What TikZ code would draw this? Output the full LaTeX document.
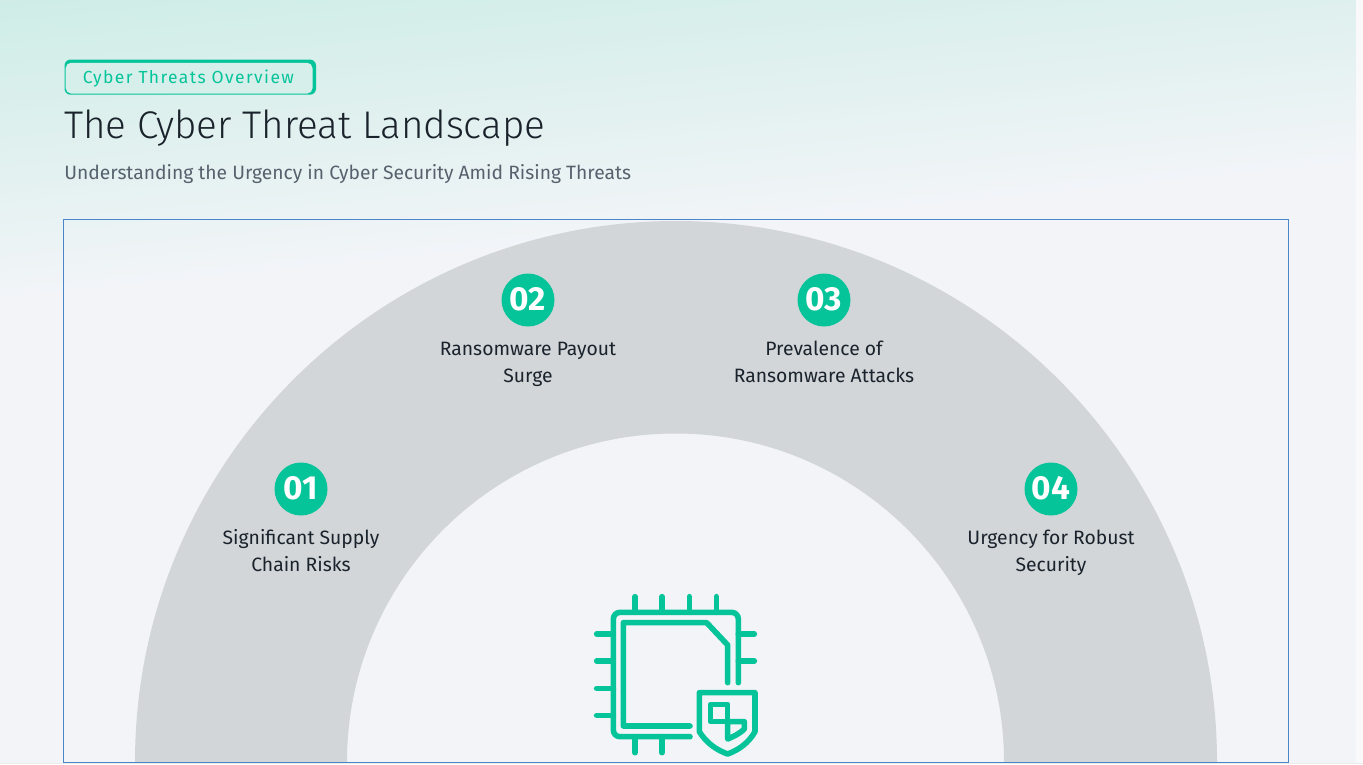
\documentclass[tikz,border=0pt]{standalone}
\usepackage{fontspec}
\setmainfont{Fira Sans}
\newfontfamily\lightf{Fira Sans Light}
\newfontfamily\badgef[LetterSpace=8]{Fira Sans}
\definecolor{teal1}{HTML}{05C49A}
\definecolor{bgend}{HTML}{F2F4F8}
\definecolor{bgstart}{HTML}{CEEDE6}
\definecolor{ringc}{HTML}{D2D6D9}
\definecolor{framec}{HTML}{4A86C8}
\definecolor{inkc}{HTML}{1A222C}
\definecolor{subc}{HTML}{56616D}
\tikzset{
  numdisc/.style={circle,fill=teal1,minimum size=53pt*0.75,inner sep=0pt,text=white,font=\fontsize{25}{25}\selectfont\bfseries},
  lab/.style={align=center,text=inkc,font=\fontsize{14.5}{20.2}\selectfont,anchor=north,inner sep=0pt},
  ico/.style={draw=teal1,line width=4.2pt,line cap=round,line join=round},
}
\begin{document}
\begin{tikzpicture}[x=0.75pt,y=-0.75pt]
\useasboundingbox (0,0) rectangle (1363,764);
% background
\fill[bgend] (0,0) rectangle (1363,764);
\foreach \i in {70,69,...,0}{
  \pgfmathsetmacro{\pct}{100*\i/70}
  \pgfmathsetmacro{\yy}{\i*4.3}
  \pgfmathsetmacro{\yr}{\i*4.3-136}
  \fill[bgend!\pct!bgstart] (0,-10) -- (0,\yy) -- (1356,\yr) -- (1356,-10) -- cycle;
}
\fill[white!50!bgend] (1356,0) rectangle (1363,764);
\fill[black!8] (0,762.5) rectangle (1363,764);
% ring
\fill[ringc] (135,762) arc[start angle=180,end angle=360,radius=541]
  -- (1004,762) arc[start angle=0,end angle=-180,radius=328.5] -- cycle;
\draw[framec,line width=0.75pt] (63.5,219.5) rectangle (1288.5,762);
% badge
\fill[teal1,rounded corners=4.5pt] (64.5,59.5) rectangle (316,94.7);
\fill[rounded corners=4pt,fill=bgstart!75!bgend] (65.7,62.8) rectangle (312.5,93.5);
\node[anchor=west,inner sep=0pt,text=teal1,font=\fontsize{13.1}{14}\badgef] (badge) at (82.5,79) {Cyber Threats Overview};
% titles
\node[anchor=base west,inner sep=0pt,text=inkc,font=\fontsize{28.9}{34}\lightf] (title) at (64,138.5) {The Cyber Threat Landscape};
\node[anchor=base west,inner sep=0pt,text=subc,font=\fontsize{14.45}{18}\selectfont] (sub) at (64,179) {Understanding the Urgency in Cyber Security Amid Rising Threats};
% items
\node[numdisc] (n1) at (301,489) {\raisebox{1.3pt}{01}};
\node[numdisc] (n2) at (528,300) {\raisebox{1.3pt}{02}};
\node[numdisc] (n3) at (824,300) {\raisebox{1.3pt}{03}};
\node[numdisc] (n4) at (1051,489) {\raisebox{1.3pt}{04}};
\node[lab] (l1) at (301,529) {Significant Supply\\Chain Risks};
\node[lab] (l2) at (528,342) {Ransomware Payout\\Surge};
\node[lab] (l3) at (824,341) {Prevalence of\\Ransomware Attacks};
\node[lab] (l4) at (1051,530) {Urgency for Robust\\Security};
% icon
\begin{scope}[shift={(585,585)},x=0.25pt,y=-0.25pt]
\draw[ico,rounded corners=5pt] (315,455) -- (85,455) -- (85,82) -- (460,82) -- (460,293);
\draw[ico] (428,293) -- (428,180) -- (365,113) -- (115,113) -- (115,423) -- (315,423);
\foreach \x in {150,231,313,394} \draw[ico] (\x,35) -- (\x,82);
\foreach \x in {150,231} \draw[ico] (\x,455) -- (\x,503);
\foreach \y in {147,228,310,391} \draw[ico] (35,\y) -- (85,\y);
\foreach \y in {147,228} \draw[ico] (460,\y) -- (508,\y);
\draw[ico] (343,323) -- (510,323) -- (510,440) .. controls (490,475) and (460,495) .. (428,507) .. controls (395,495) and (365,475) .. (343,440) -- cycle;
\draw[ico] (377,358) -- (428,358) -- (428,410) -- (377,410) -- cycle;
\draw[ico] (428,410) -- (478,410) -- (478,432) .. controls (465,445) and (445,455) .. (428,462) -- cycle;
\end{scope}
\end{tikzpicture}
\end{document}
